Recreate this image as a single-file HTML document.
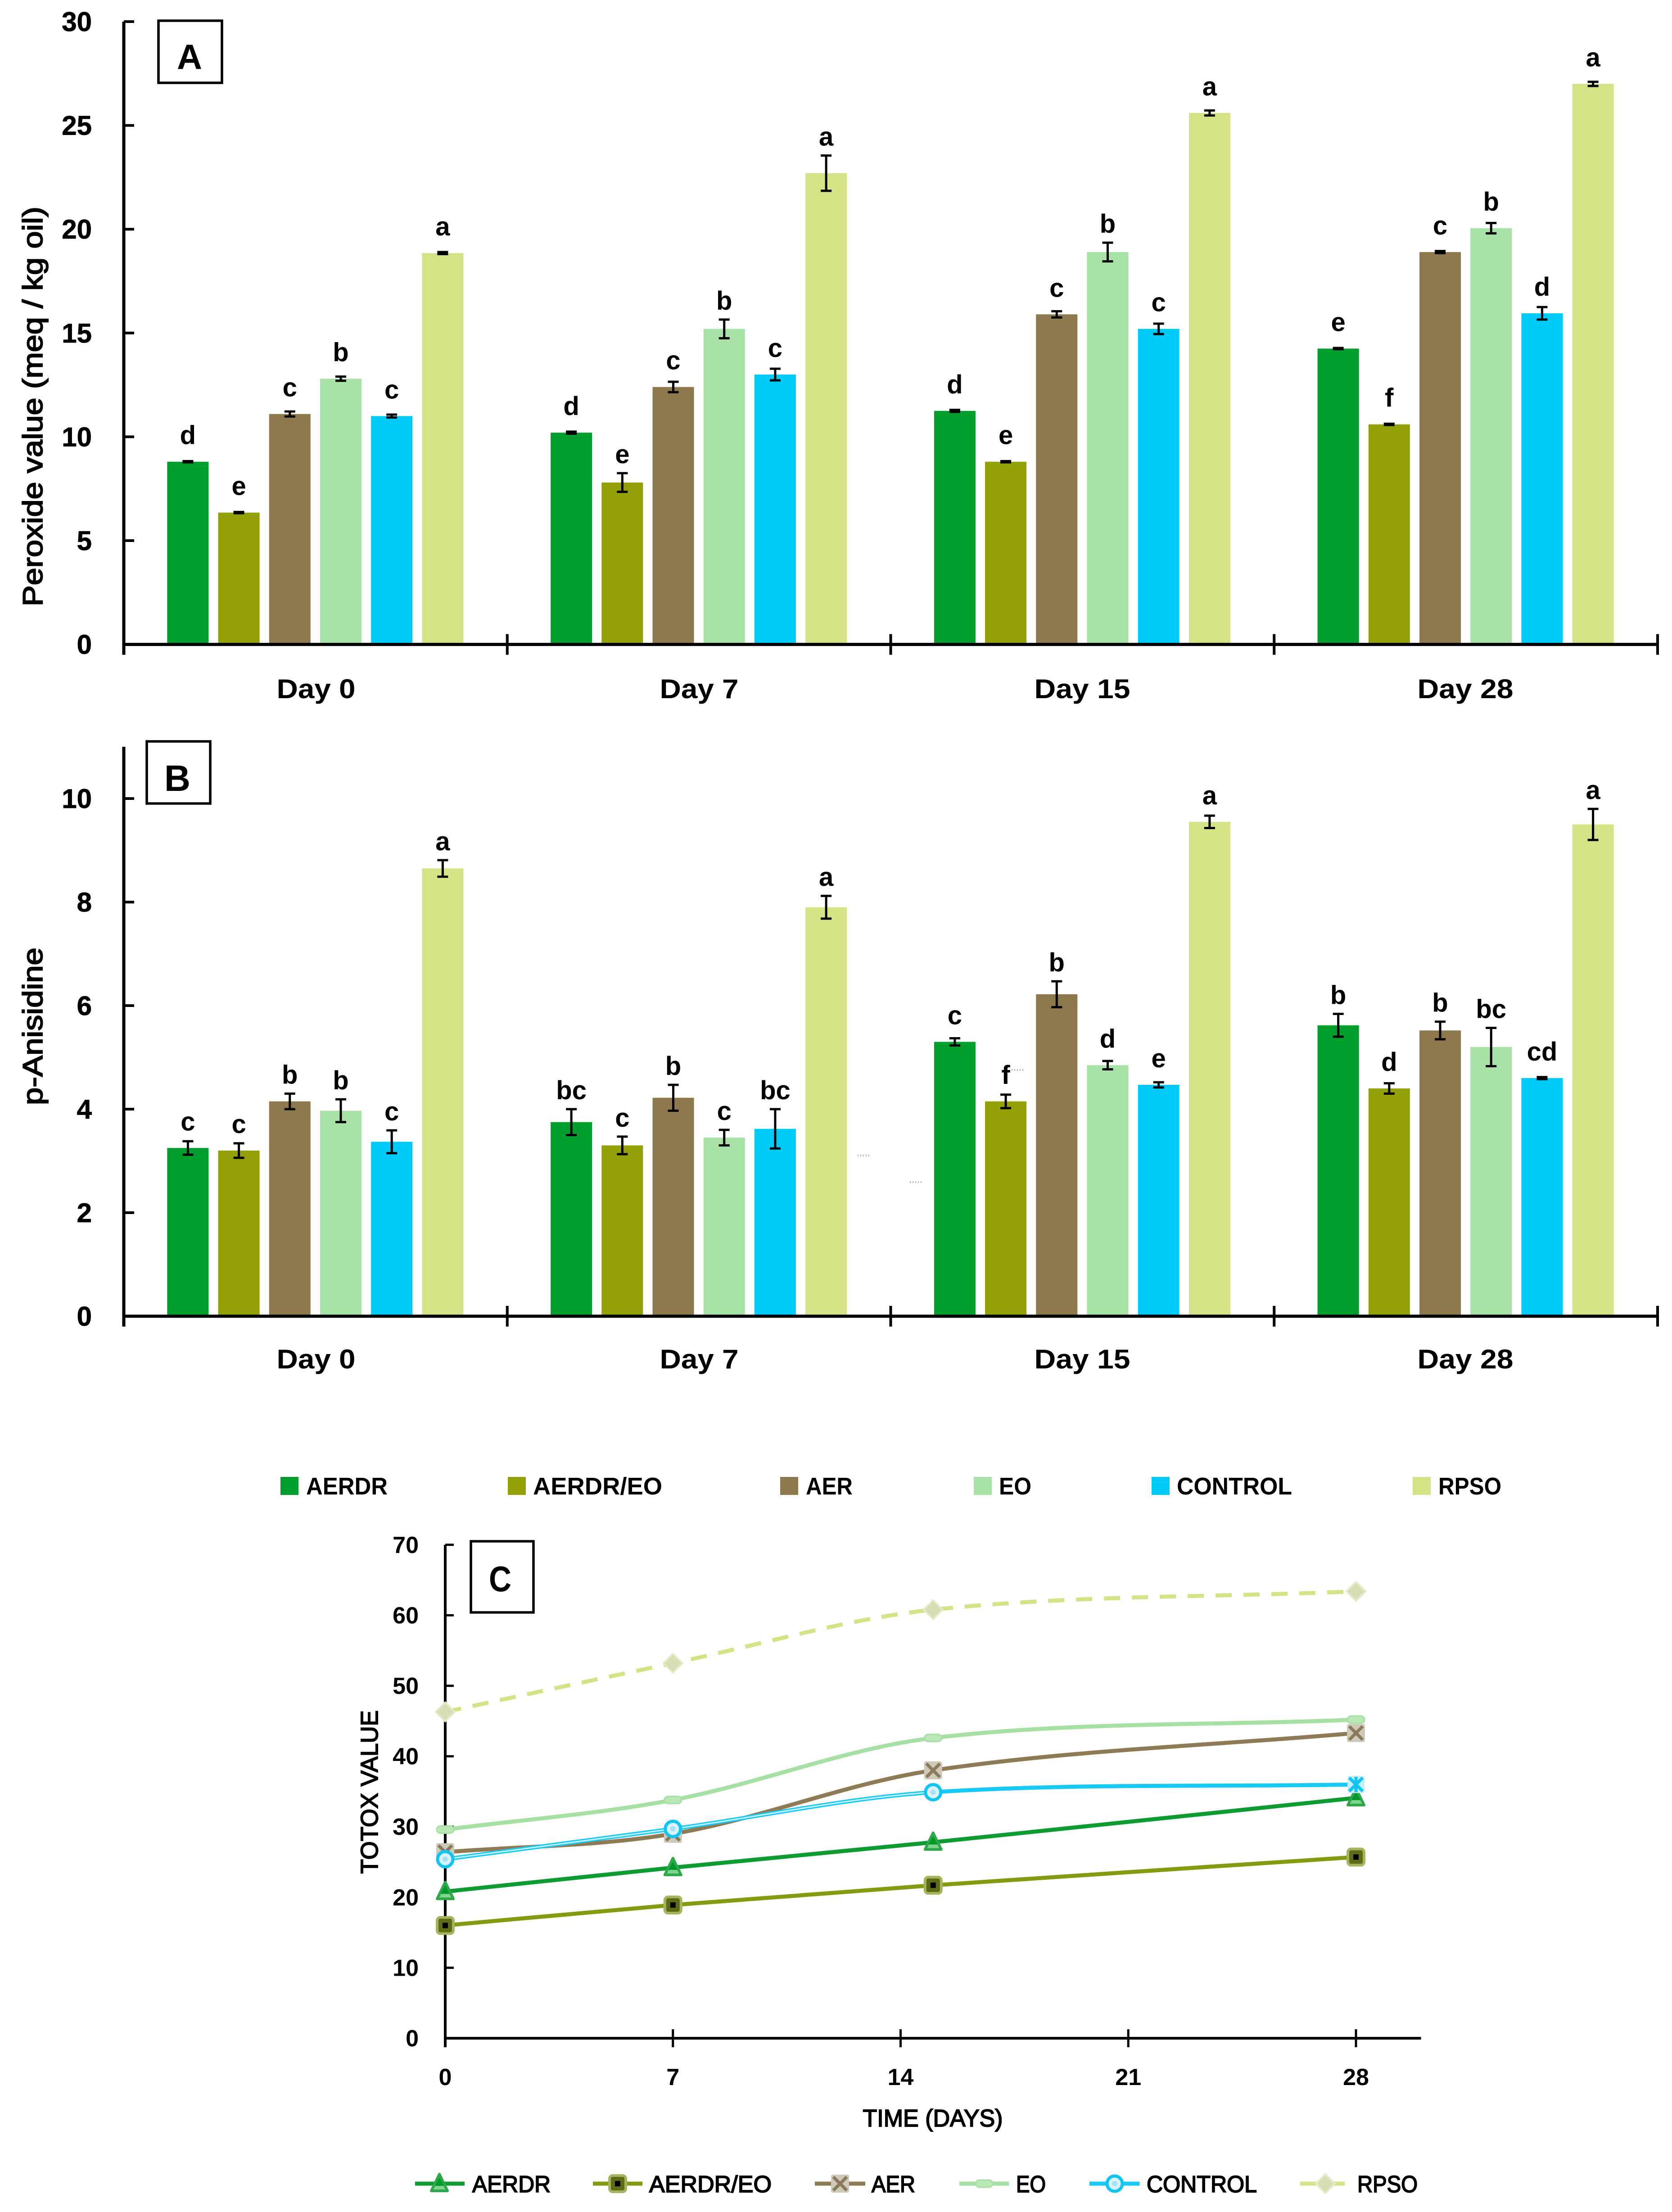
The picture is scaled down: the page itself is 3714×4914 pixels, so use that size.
<!DOCTYPE html>
<html lang="en">
<head>
<meta charset="utf-8">
<title>Peroxide value, p-Anisidine and TOTOX value</title>
<style>
html,body{margin:0;padding:0;background:#fff;width:3714px;height:4914px;overflow:hidden}
svg{display:block}
text{font-family:"Liberation Sans",sans-serif;fill:#000}
</style>
</head>
<body>
<svg id="chart" xmlns="http://www.w3.org/2000/svg" width="3714" height="4914" viewBox="0 0 3714 4914">
<rect x="0" y="0" width="3714" height="4914" fill="#ffffff"/>
</svg>
<script>
const seriesNames = ['AERDR', 'AERDR/EO', 'AER', 'EO', 'CONTROL', 'RPSO'];
const dayLabels = ['Day 0', 'Day 7', 'Day 15', 'Day 28'];

const peroxideValues = [
  [8.8, 6.35, 11.1, 12.8, 11.0, 18.85],
  [10.2, 7.8, 12.4, 15.2, 13.0, 22.7],
  [11.25, 8.8, 15.9, 18.9, 15.2, 25.6],
  [14.25, 10.6, 18.9, 20.05, 15.95, 27.0]
];
const peroxideErrors = [
  [0.03, 0.03, 0.12, 0.1, 0.07, 0.05],
  [0.05, 0.45, 0.25, 0.45, 0.28, 0.85],
  [0.05, 0.03, 0.15, 0.45, 0.25, 0.12],
  [0.03, 0.03, 0.05, 0.25, 0.3, 0.1]
];
const peroxideLetters = [
  ['d', 'e', 'c', 'b', 'c', 'a'],
  ['d', 'e', 'c', 'b', 'c', 'a'],
  ['d', 'e', 'c', 'b', 'c', 'a'],
  ['e', 'f', 'c', 'b', 'd', 'a']
];
const peroxideTicks = [0, 5, 10, 15, 20, 25, 30];

const anisidineValues = [
  [3.25, 3.2, 4.15, 3.97, 3.37, 8.65],
  [3.75, 3.3, 4.22, 3.45, 3.62, 7.9],
  [5.3, 4.15, 6.22, 4.85, 4.47, 9.55],
  [5.62, 4.4, 5.52, 5.2, 4.6, 9.5]
];
const anisidineErrors = [
  [0.13, 0.14, 0.15, 0.22, 0.22, 0.16],
  [0.25, 0.17, 0.25, 0.15, 0.38, 0.22],
  [0.07, 0.13, 0.25, 0.08, 0.05, 0.12],
  [0.22, 0.1, 0.17, 0.37, 0.02, 0.3]
];
const anisidineLetters = [
  ['c', 'c', 'b', 'b', 'c', 'a'],
  ['bc', 'c', 'b', 'c', 'bc', 'a'],
  ['c', 'f', 'b', 'd', 'e', 'a'],
  ['b', 'd', 'b', 'bc', 'cd', 'a']
];
const anisidineTicks = [0, 2, 4, 6, 8, 10];

const totoxDays = [0, 7, 15, 28];
const totoxAerdr = [20.8, 24.2, 27.8, 34.1];
const totoxAerdrEo = [16, 18.9, 21.7, 25.7];
const totoxAer = [26.4, 29, 38, 43.3];
const totoxEo = [29.6, 33.8, 42.6, 45.2];
const totoxControl = [25.4, 29.7, 34.9, 36];
const totoxRpso = [46.3, 53.2, 60.8, 63.4];
const totoxYTicks = [0, 10, 20, 30, 40, 50, 60, 70];
const totoxXTicks = [0, 7, 14, 21, 28];

const barColors = ['#009e2c', '#93a106', '#8e794f', '#a8e2a6', '#00cbf8', '#d5e285'];
const lineColors = ['#0e9b31', '#859a10', '#8e7a54', '#a6e0a3', '#18c9f4', '#d5e285'];

const svg = document.getElementById('chart');
const NS = 'http://www.w3.org/2000/svg';

function mk(tag, props, parent) {
  const el = document.createElementNS(NS, tag);
  for (const k in props) el.setAttribute(k, props[k]);
  (parent || svg).appendChild(el);
  return el;
}
function group(parent) {
  return mk('g', {}, parent);
}
function label(str, props, parent) {
  const el = mk('text', props, parent);
  el.textContent = str;
  return el;
}

function drawBoxLabel(letter, x, y, w, h, tx, ty, fs, len) {
  const box = mk('rect', {x: x, y: y, width: w, height: h, fill: '#fff', stroke: '#000', 'stroke-width': 5.5});
  
  
  const t = label(letter, {x: tx, y: ty, 'font-size': fs, 'font-weight': 700, 'text-anchor': 'middle', textLength: len, lengthAdjust: 'spacingAndGlyphs'});
  
  
}

function drawBarPanel(id, vals, errs, letters, ticks, yMax, y0, unit, title, titleLen, titleY, labelBaseline) {
  const left = 275, band = 851.75, step = 113.2, barW = 92;
  const yOf = v => y0 - v * unit;
  const panel = group();
  
  

  vals.forEach((row, g) => {
    const center = left + band * (g + 0.5);
    row.forEach((v, s) => {
      const cx = center - 283.5 + step * s;
      const bar = mk('rect', {x: cx - barW / 2, y: yOf(v), width: barW, height: y0 - yOf(v), fill: barColors[s]}, panel);
      
      
    });
  });
  vals.forEach((row, g) => {
    const center = left + band * (g + 0.5);
    row.forEach((v, s) => {
      const cx = center - 283.5 + step * s;
      const e = errs[g][s];
      const top = yOf(v + e), bottom = yOf(v - e);
      const eb = mk('path', {d: 'M' + cx + ' ' + top + 'V' + bottom + 'M' + (cx - 12) + ' ' + top + 'H' + (cx + 12) + 'M' + (cx - 12) + ' ' + bottom + 'H' + (cx + 12), stroke: '#000', 'stroke-width': 5, fill: 'none'}, panel);
      
      
      const base = Math.min(yOf(v) - 39, top - 22);
      const t = label(letters[g][s], {x: cx, y: base, 'font-size': 58, 'font-weight': 700, 'text-anchor': 'middle'}, panel);
      
      
    });
  });

  const yAxis = mk('line', {x1: left, x2: left, y1: yOf(yMax), y2: y0 + 23, stroke: '#000', 'stroke-width': 7}, panel);
  
  
  const xAxis = mk('line', {x1: left, x2: left + band * 4 + 3, y1: y0, y2: y0, stroke: '#000', 'stroke-width': 7}, panel);
  
  

  ticks.forEach(tv => {
    const y = yOf(tv);
    const tk = mk('line', {x1: left, x2: left + 23, y1: y, y2: y, stroke: '#000', 'stroke-width': 6}, panel);
    
    
    const t = label(String(tv), {x: 204, y: y + 21, 'font-size': 60, 'font-weight': 700, 'text-anchor': 'end', stroke: '#000', 'stroke-width': 0.8}, panel);
    
    
  });
  dayLabels.forEach((d, g) => {
    const tx = left + band * (g + 1);
    const tk = mk('line', {x1: tx, x2: tx, y1: y0 - 23, y2: y0 + 23, stroke: '#000', 'stroke-width': 6}, panel);
    
    
    const t = label(d, {x: 702 + 851 * g, y: labelBaseline, 'font-size': 60, 'font-weight': 700, 'text-anchor': 'middle', textLength: d.length > 5 ? 213 : 175, lengthAdjust: 'spacingAndGlyphs'}, panel);
    
    
  });

  const tt = label(title, {x: 0, y: 0, transform: 'translate(94 ' + titleY + ') rotate(-90)', 'font-size': 62, 'text-anchor': 'middle', stroke: '#000', 'stroke-width': 2, textLength: titleLen, lengthAdjust: 'spacingAndGlyphs'}, panel);
  
  
}

drawBarPanel('a', peroxideValues, peroxideErrors, peroxideLetters, peroxideTicks, 30, 1431.6, 46.12, 'Peroxide value (meq / kg oil)', 888, 903, 1551);
drawBarPanel('b', anisidineValues, anisidineErrors, anisidineLetters, anisidineTicks, 11, 2924, 115, 'p-Anisidine', 350, 2280, 3040);
drawBoxLabel('A', 352, 46, 141, 138, 421, 153, 78, 56);
drawBoxLabel('B', 326, 1647, 141, 138, 394, 1757, 82, 58);

/* faint scan artifacts in panel B */
const artifactDots = mk('path', {d: 'M1905 2567h30M2021 2626h30M2247 2377h30', stroke: '#b0b0b0', 'stroke-width': 4, 'stroke-dasharray': '2 4', fill: 'none'});



/* bar legend */
const barLegendSquares = [623, 1128, 1733, 2163, 2558, 3138];
const barLegendTexts = [680, 1184, 1790, 2219, 2614, 3195];
const barLegendLens = [181, 287, 104, 72, 256, 140];
seriesNames.forEach((n, i) => {
  const sw = mk('rect', {x: barLegendSquares[i], y: 3281, width: 40, height: 40, fill: barColors[i]});
  
  
  const t = label(n, {x: barLegendTexts[i], y: 3320, 'font-size': 54, 'font-weight': 700, textLength: barLegendLens[i], lengthAdjust: 'spacingAndGlyphs'});
  
  
});

/* panel C */
const cx0 = 989, cUnitX = 72.25, cy0 = 4528, cUnitY = 15.66;
const xC = d => cx0 + d * cUnitX;
const yC = v => cy0 - v * cUnitY;

function smoothPath(xs, ys) {
  const pts = xs.map((d, i) => [xC(d), yC(ys[i])]);
  let d = 'M' + pts[0][0] + ' ' + pts[0][1];
  for (let i = 0; i < pts.length - 1; i++) {
    const p0 = pts[Math.max(i - 1, 0)], p1 = pts[i], p2 = pts[i + 1], p3 = pts[Math.min(i + 2, pts.length - 1)];
    const h = p2[0] - p1[0];
    const s1 = (p2[1] - p0[1]) / (p2[0] - p0[0]);
    const s2 = (p3[1] - p1[1]) / (p3[0] - p1[0]);
    d += 'C' + (p1[0] + h / 3) + ' ' + (p1[1] + s1 * h / 3) + ' ' + (p2[0] - h / 3) + ' ' + (p2[1] - s2 * h / 3) + ' ' + p2[0] + ' ' + p2[1];
  }
  return d;
}

function drawMarker(kind, x, y, parent, isLast) {
  const g = group(parent);
  
  
  if (kind === 'aerdr') {
    mk('path', {d: 'M' + (x - 18) + ' ' + (y + 16) + 'L' + x + ' ' + (y - 21) + 'L' + (x + 18) + ' ' + (y + 16) + 'Z', fill: '#7fd58e', stroke: '#2ea84a', 'stroke-width': 6, 'stroke-linejoin': 'round'}, g);
    mk('path', {d: 'M' + (x - 10) + ' ' + (y + 5) + 'L' + x + ' ' + (y - 14) + 'L' + (x + 10) + ' ' + (y + 5) + 'Z', fill: '#009a2a'}, g);
  } else if (kind === 'aerdr-eo') {
    mk('rect', {x: x - 18, y: y - 18, width: 36, height: 36, rx: 7, fill: '#5f6b16', stroke: '#a6b45e', 'stroke-width': 6}, g);
    mk('rect', {x: x - 6, y: y - 6, width: 12, height: 12, fill: '#000'}, g);
  } else if (kind === 'aer') {
    mk('rect', {x: x - 20, y: y - 20, width: 40, height: 40, rx: 4, fill: '#cfc9ba'}, g);
    mk('path', {d: 'M' + (x - 15) + ' ' + (y - 15) + 'L' + (x + 15) + ' ' + (y + 15) + 'M' + (x + 15) + ' ' + (y - 15) + 'L' + (x - 15) + ' ' + (y + 15), stroke: '#8a7a5c', 'stroke-width': 7}, g);
  } else if (kind === 'eo') {
    mk('rect', {x: x - 19, y: y - 8, width: 38, height: 16, rx: 8, fill: '#b9e8b6', stroke: '#a6e0a3', 'stroke-width': 3}, g);
  } else if (kind === 'control' && !isLast) {
    mk('circle', {cx: x, cy: y, r: 17, fill: '#d9f3fb', stroke: '#12c4f2', 'stroke-width': 7}, g);
    mk('circle', {cx: x, cy: y, r: 6, fill: '#a9e0f4'}, g);
  } else if (kind === 'control') {
    mk('rect', {x: x - 19, y: y - 19, width: 38, height: 38, rx: 4, fill: '#c6eefb'}, g);
    mk('path', {d: 'M' + (x - 15) + ' ' + (y - 15) + 'L' + (x + 15) + ' ' + (y + 15) + 'M' + (x + 15) + ' ' + (y - 15) + 'L' + (x - 15) + ' ' + (y + 15) + 'M' + x + ' ' + (y - 17) + 'V' + (y + 17), stroke: '#12c4f2', 'stroke-width': 7}, g);
  } else {
    mk('path', {d: 'M' + x + ' ' + (y - 21) + 'L' + (x + 21) + ' ' + y + 'L' + x + ' ' + (y + 21) + 'L' + (x - 21) + ' ' + y + 'Z', fill: '#d6dfb4', stroke: '#e4ebc8', 'stroke-width': 4}, g);
  }
}

const panelC = group();



const cYAxis = mk('line', {x1: cx0, x2: cx0, y1: yC(70), y2: cy0 + 20, stroke: '#000', 'stroke-width': 6}, panelC);


const cXAxis = mk('line', {x1: cx0, x2: xC(30), y1: cy0, y2: cy0, stroke: '#000', 'stroke-width': 6}, panelC);



totoxYTicks.forEach(v => {
  const tk = mk('line', {x1: cx0, x2: cx0 + 19, y1: yC(v), y2: yC(v), stroke: '#000', 'stroke-width': 5}, panelC);
  
  
  const t = label(String(v), {x: 930, y: yC(v) + 18, 'font-size': 52, 'font-weight': 700, 'text-anchor': 'end'}, panelC);
  
  
});
totoxXTicks.forEach(d => {
  const tk = mk('line', {x1: xC(d), x2: xC(d), y1: cy0 - 20, y2: cy0 + 20, stroke: '#000', 'stroke-width': 5}, panelC);
  
  
  const t = label(String(d), {x: xC(d), y: 4632, 'font-size': 52, 'font-weight': 700, 'text-anchor': 'middle'}, panelC);
  
  
});

const cTitleY = label('TOTOX VALUE', {x: 0, y: 0, transform: 'translate(839 3981) rotate(-90)', 'font-size': 54, 'text-anchor': 'middle', stroke: '#000', 'stroke-width': 2, textLength: 363, lengthAdjust: 'spacingAndGlyphs'}, panelC);


const cTitleX = label('TIME (DAYS)', {x: 2072, y: 4724, 'font-size': 54, 'text-anchor': 'middle', stroke: '#000', 'stroke-width': 2, textLength: 311, lengthAdjust: 'spacingAndGlyphs'}, panelC);



const totoxSeries = [totoxAerdr, totoxAerdrEo, totoxAer, totoxEo, totoxControl, totoxRpso];
const markerKinds = ['aerdr', 'aerdr-eo', 'aer', 'eo', 'control', 'rpso'];
const drawOrder = [0, 1, 2, 3, 4, 5];

drawOrder.forEach(i => {
  const line = mk('path', {d: smoothPath(totoxDays, totoxSeries[i]), fill: 'none', stroke: lineColors[i], 'stroke-width': 9, 'stroke-linecap': 'butt'}, panelC);
  
  
  if (i === 5) line.setAttribute('stroke-dasharray', '36 26');
  if (i === 4) {
    const inner = mk('path', {d: smoothPath(totoxDays, totoxSeries[i]), fill: 'none', stroke: '#c8f2fd', 'stroke-width': 3, 'stroke-dasharray': '1080 4000'}, panelC);
    
    
  }
});
drawOrder.forEach(i => {
  totoxDays.forEach((d, k) => {
    drawMarker(markerKinds[i], xC(d), yC(totoxSeries[i][k]), panelC, k === totoxDays.length - 1);
  });
});

drawBoxLabel('C', 1046, 3424, 139, 158, 1111, 3535, 80, 50);

/* line legend */
const lineLegendStart = [922, 1317, 1810, 2131, 2420, 2888];
const lineLegendEnd = [1032, 1427, 1922, 2241, 2531, 2987];
const lineLegendMarker = [976, 1372, 1866, 2186, 2476, 2944];
const lineLegendText = [1049, 1442, 1936, 2257, 2547, 3015];
const lineLegendLens = [174, 272, 97, 66, 245, 134];
seriesNames.forEach((n, i) => {
  const g = group();
  
  
  mk('line', {x1: lineLegendStart[i], x2: lineLegendEnd[i], y1: 4851, y2: 4851, stroke: lineColors[i], 'stroke-width': 9}, g);
  drawMarker(markerKinds[i], lineLegendMarker[i], 4851, g, false);
  const t = label(n, {x: lineLegendText[i], y: 4870, 'font-size': 52, stroke: '#000', 'stroke-width': 2, textLength: lineLegendLens[i], lengthAdjust: 'spacingAndGlyphs'}, g);
  
  
});
</script>
</body>
</html>
